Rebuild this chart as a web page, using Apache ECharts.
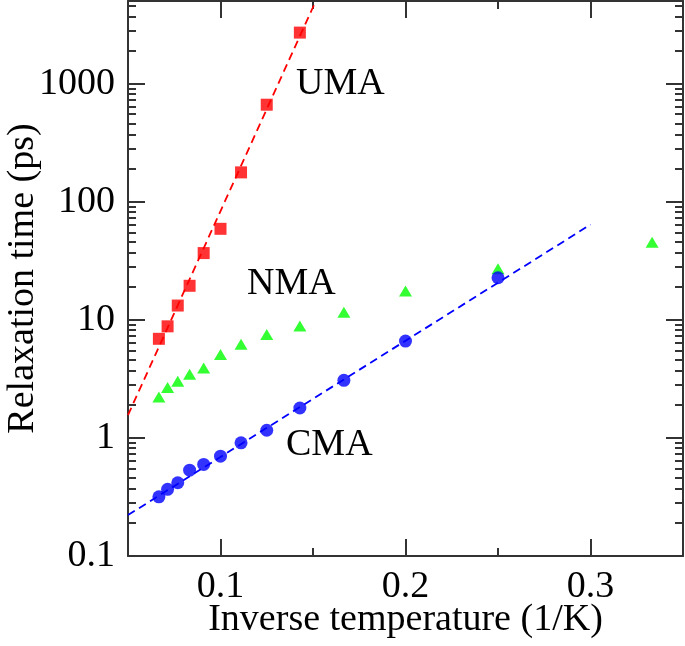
<!DOCTYPE html>
<html>
<head>
<meta charset="utf-8">
<script src="https://cdn.jsdelivr.net/npm/echarts@6/dist/echarts.min.js"></script>
<style>
html,body{margin:0;padding:0;background:#fff;}
#chart{width:685px;height:646px;}
</style>
</head>
<body>
<div id="chart"></div>
<script>
// Inverse temperature (1/K) for each measured point
const invT = [0.0667, 0.0714, 0.0769, 0.0833, 0.0909, 0.1, 0.1111, 0.125, 0.1429, 0.1667, 0.2, 0.25, 0.3333];
// Relaxation times (ps)
const umaTau = [6.9, 8.8, 13.2, 19.4, 36.7, 58.9, 177, 662, 2700];
const nmaTau = [2.22, 2.67, 3.02, 3.45, 3.91, 5.07, 6.2, 7.5, 8.85, 11.6, 17.5, 27.0, 45.4];
const cmaTau = [0.317, 0.367, 0.417, 0.533, 0.596, 0.70, 0.908, 1.16, 1.79, 3.07, 6.6, 22.7];
// Fit lines (endpoints)
const umaFitX = [0.05, 0.1515];
const umaFitTau = [1.56, 5000];
const cmaFitX = [0.05, 0.3];
const cmaFitTau = [0.222, 64];
// Tick labels / tick positions
const xMajorTicks = [0.1, 0.2, 0.3];
const xMinorTicks = [0.15, 0.25];
const yMajorTicks = [0.1, 1, 10, 100, 1000];
const yMinorFactors = [1.9, 2.8, 3.7, 4.6, 5.5, 6.4, 7.3, 8.2, 9.1];
const yMinorTicks = [];
yMajorTicks.forEach(d => yMinorFactors.forEach(f => { const v = +(d * f).toPrecision(4); if (v <= 5000) yMinorTicks.push(v); }));

const FONT = 'Liberation Serif';
const AX = '#333';

const pairs = (xs, ys) => ys.map((y, i) => [xs[i], y]);

function xAxisDef(grid, pos, ticks, len, showLine, showLabel) {
  return {
    type: 'value', gridIndex: grid, position: pos, min: 0.05, max: 0.35,
    axisLine: { show: showLine, onZero: false, lineStyle: { color: AX, width: 2 } },
    axisTick: { show: true, inside: true, length: len, customValues: ticks, lineStyle: { color: AX, width: 2 } },
    axisLabel: { show: showLabel, customValues: ticks, fontFamily: FONT, fontSize: 38, color: '#000', margin: 12,
      formatter: v => String(+(+v).toFixed(2)) },
    splitLine: { show: false }
  };
}
function yAxisDef(grid, pos, ticks, len, showLine, showLabel) {
  return {
    type: 'log', logBase: 10, gridIndex: grid, position: pos, min: 0.1, max: 5000,
    axisLine: { show: showLine, onZero: false, lineStyle: { color: AX, width: 2 } },
    axisTick: { show: true, inside: true, length: len, customValues: ticks, lineStyle: { color: AX, width: 2 } },
    axisLabel: { show: showLabel, customValues: ticks, fontFamily: FONT, fontSize: 38, color: '#000', margin: 13,
      formatter: v => String(+(+v).toPrecision(6)) },
    splitLine: { show: false }, minorTick: { show: false }
  };
}

const xs = [
  xAxisDef(0, 'bottom', xMajorTicks, 17, true, true),
  xAxisDef(0, 'top', xMajorTicks, 17, true, false),
  xAxisDef(1, 'bottom', xMinorTicks, 8, false, false),
  xAxisDef(1, 'top', xMinorTicks, 8, false, false)
];
Object.assign(xs[0], { name: 'Inverse temperature (1/K)', nameLocation: 'middle', nameGap: 45, nameMoveOverlap: false,
  nameTextStyle: { fontFamily: FONT, fontSize: 38, color: '#000' } });
const ys = [
  yAxisDef(0, 'left', yMajorTicks, 17, true, true),
  yAxisDef(0, 'right', yMajorTicks, 17, true, false),
  yAxisDef(1, 'left', yMinorTicks, 8, false, false),
  yAxisDef(1, 'right', yMinorTicks, 8, false, false)
];
Object.assign(ys[0], { name: 'Relaxation time (ps)', nameLocation: 'middle', nameGap: 86, nameMoveOverlap: false,
  nameTextStyle: { fontFamily: FONT, fontSize: 38, color: '#000' } });

const gridBox = { left: 128, top: 1, right: 2, bottom: 90, containLabel: false, outerBoundsMode: 'none' };

const chart = echarts.init(document.getElementById('chart'), null, { renderer: 'canvas' });
chart.setOption({
  animation: false,
  backgroundColor: '#fff',
  grid: [Object.assign({}, gridBox), Object.assign({}, gridBox)],
  xAxis: xs,
  yAxis: ys,
  series: [
    { name: 'UMA fit', type: 'line', xAxisIndex: 0, yAxisIndex: 0, data: pairs(umaFitX, umaFitTau),
      symbol: 'none', lineStyle: { color: '#ff0000', width: 1.8, type: [8, 5] }, z: 2 },
    { name: 'CMA fit', type: 'line', xAxisIndex: 0, yAxisIndex: 0, data: pairs(cmaFitX, cmaFitTau),
      symbol: 'none', lineStyle: { color: '#0000ff', width: 1.8, type: [8, 5] }, z: 2 },
    { name: 'UMA', type: 'scatter', xAxisIndex: 0, yAxisIndex: 0, data: pairs(invT, umaTau),
      symbol: 'rect', symbolSize: 12, itemStyle: { color: '#ff0000' }, z: 3 },
    { name: 'NMA', type: 'scatter', xAxisIndex: 0, yAxisIndex: 0, data: pairs(invT, nmaTau),
      symbol: 'triangle', symbolSize: [13, 11], itemStyle: { color: '#00ff00' }, z: 3 },
    { name: 'CMA', type: 'scatter', xAxisIndex: 0, yAxisIndex: 0, data: pairs(invT, cmaTau),
      symbol: 'circle', symbolSize: 13, itemStyle: { color: '#0000ff' }, z: 3 }
  ],
  graphic: [
    { type: 'text', left: 296, top: 65, style: { text: 'UMA', font: '38px "Liberation Serif"', fill: '#000' } },
    { type: 'text', left: 247, top: 265, style: { text: 'NMA', font: '38px "Liberation Serif"', fill: '#000' } },
    { type: 'text', left: 286, top: 426, style: { text: 'CMA', font: '38px "Liberation Serif"', fill: '#000' } }
  ]
});
</script>
</body>
</html>
